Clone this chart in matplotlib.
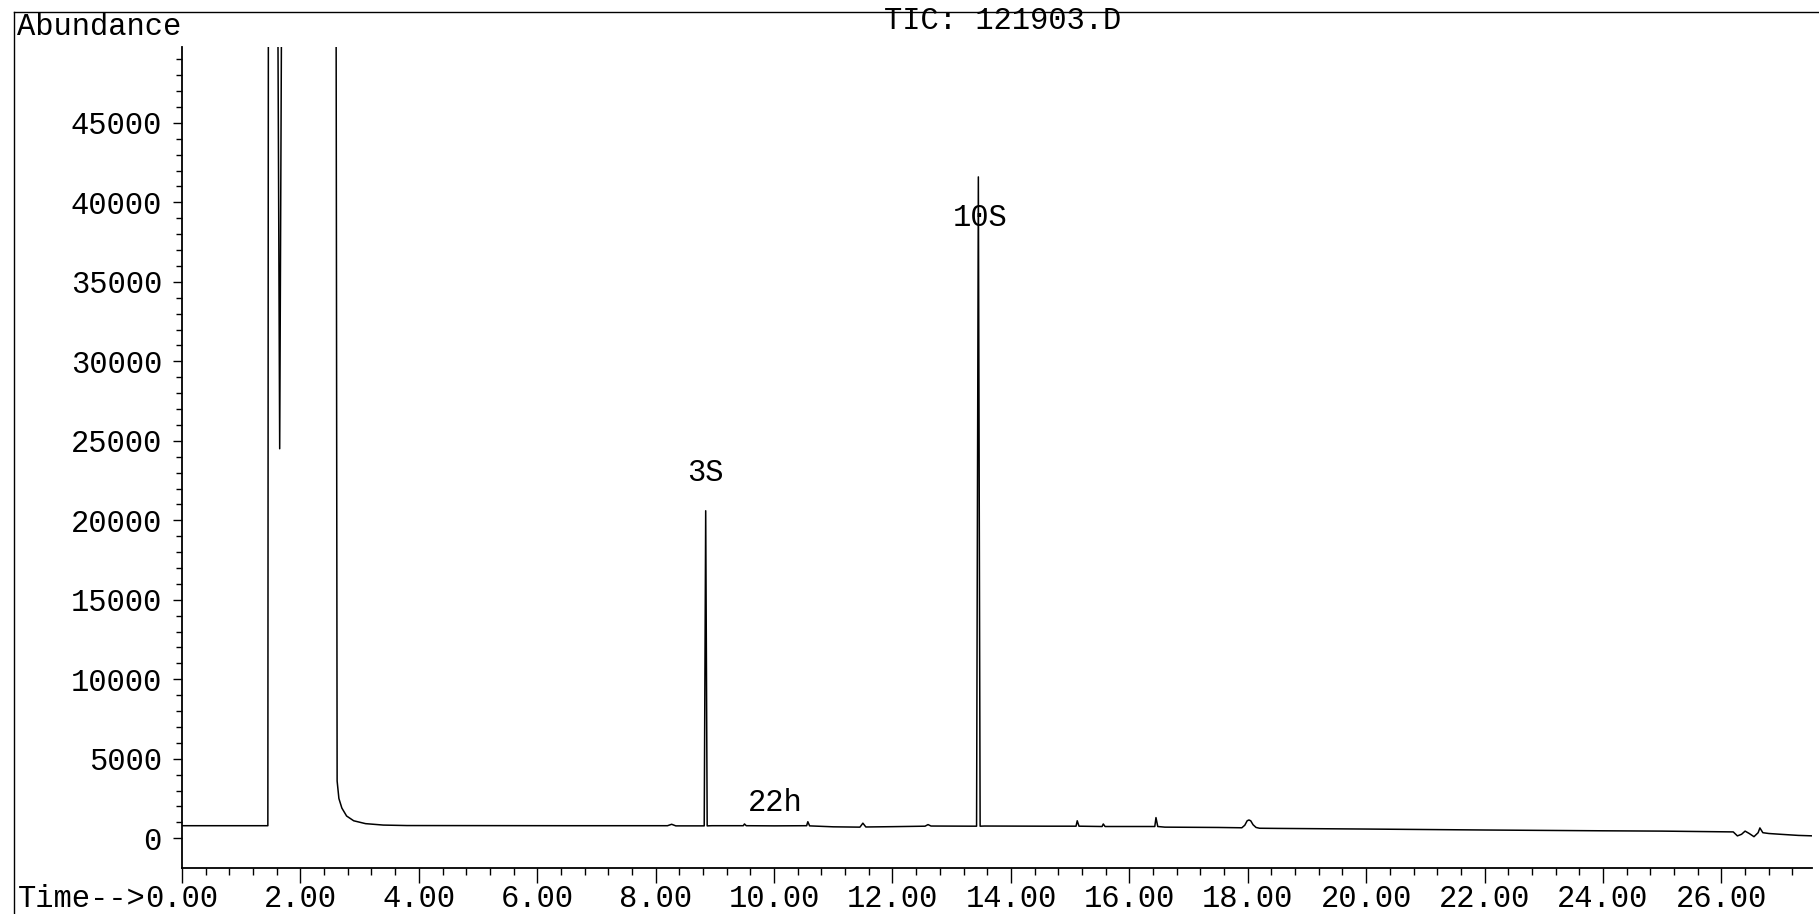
import numpy as np
import matplotlib
matplotlib.use("Agg")
import matplotlib.pyplot as plt
from matplotlib.lines import Line2D
from matplotlib.ticker import MultipleLocator, FormatStrFormatter

plt.rcParams['font.family'] = ['Liberation Mono', 'DejaVu Sans Mono']

# trace (time in min, abundance)
time_min = [0.00, 1.45, 1.46, 1.61, 1.65, 1.69, 2.60, 2.62, 2.65, 2.70, 2.78, 2.90,
            3.10, 3.40, 3.80, 6.50, 8.20, 8.27, 8.34, 8.82, 8.845, 8.87, 8.95,
            9.48, 9.50, 9.53, 10.00, 10.55, 10.57, 10.60, 11.00, 11.45, 11.50,
            11.55, 12.00, 12.55, 12.60, 12.65, 13.42, 13.45, 13.48, 13.55, 14.60,
            15.10, 15.12, 15.15, 15.54, 15.56, 15.59, 16.00, 16.43, 16.45, 16.48,
            16.60, 17.50, 17.90, 17.95, 17.99, 18.02, 18.05, 18.09, 18.14, 18.20,
            18.50, 20.00, 22.00, 24.00, 25.00, 26.20, 26.27, 26.34, 26.40, 26.47,
            26.55, 26.62, 26.65, 26.70, 26.80, 27.00, 27.30, 27.55]
abundance = [790, 790, 60000, 60000, 24500, 60000, 60000, 3600, 2500, 1900, 1400, 1100,
             920, 830, 800, 790, 790, 880, 780, 780, 20600, 780, 790,
             790, 900, 790, 780, 790, 1040, 780, 720, 700, 950,
             710, 730, 760, 860, 770, 760, 41600, 760, 770, 760,
             760, 1100, 760, 740, 900, 740, 740, 740, 1300, 740,
             700, 680, 660, 820, 1100, 1150, 1100, 850, 680, 630,
             620, 580, 520, 470, 450, 400, 150, 250, 450, 300,
             100, 350, 650, 350, 300, 250, 180, 150]

peak_labels = ['3S', '22h', '10S']
label_time = [8.84, 10.02, 13.48]
label_abund = [23000, 2200, 39000]

W, H = 1819, 914
fig = plt.figure(figsize=(W / 100, H / 100), dpi=100)
ax = fig.add_axes([182 / W, 1 - 868 / H, (1812 - 182) / W, (868 - 47) / H])

ax.plot(time_min, abundance, color='black', lw=1.1)
ax.set_xlim(0, 27.53)
ax.set_ylim(-1870, 49770)

for s in ['top', 'right']:
    ax.spines[s].set_visible(False)
for s in ['left', 'bottom']:
    ax.spines[s].set_linewidth(1.3)

ax.xaxis.set_major_locator(MultipleLocator(2))
ax.xaxis.set_minor_locator(MultipleLocator(0.4))
ax.xaxis.set_major_formatter(FormatStrFormatter('%.2f'))
ax.set_yticks(np.arange(0, 45001, 5000))
ax.set_yticks(np.arange(0, 49001, 1000), minor=True)
ax.tick_params(axis='x', which='major', length=10.8, width=1, pad=1, labelsize=22)
ax.tick_params(axis='x', which='minor', length=5, width=1)
ax.tick_params(axis='y', which='major', length=6.5, width=1, pad=8, labelsize=22)
ax.tick_params(axis='y', which='minor', length=4, width=1)

for lab, t, a in zip(peak_labels, label_time, label_abund):
    ax.text(t, a, lab, fontsize=22, ha='center', va='center')

ax.annotate('Time-->', xy=(0, 0), xycoords='axes fraction',
            xytext=(-26.4, -11.8), textcoords='offset points',
            ha='right', va='top', fontsize=22)

fig.text(17 / W, 1 - 27 / H, 'Abundance', fontsize=22, ha='left', va='center')
fig.text(1003 / W, 1 - 21 / H, 'TIC: 121903.D', fontsize=22, ha='center', va='center')

# frame lines of the printout
fig.add_artist(Line2D([14 / W, 1], [1 - 12 / H, 1 - 12 / H], color='black', lw=1))
fig.add_artist(Line2D([14 / W, 14 / W], [0, 1 - 12 / H], color='black', lw=1))

fig.savefig('out.png', dpi=100)
